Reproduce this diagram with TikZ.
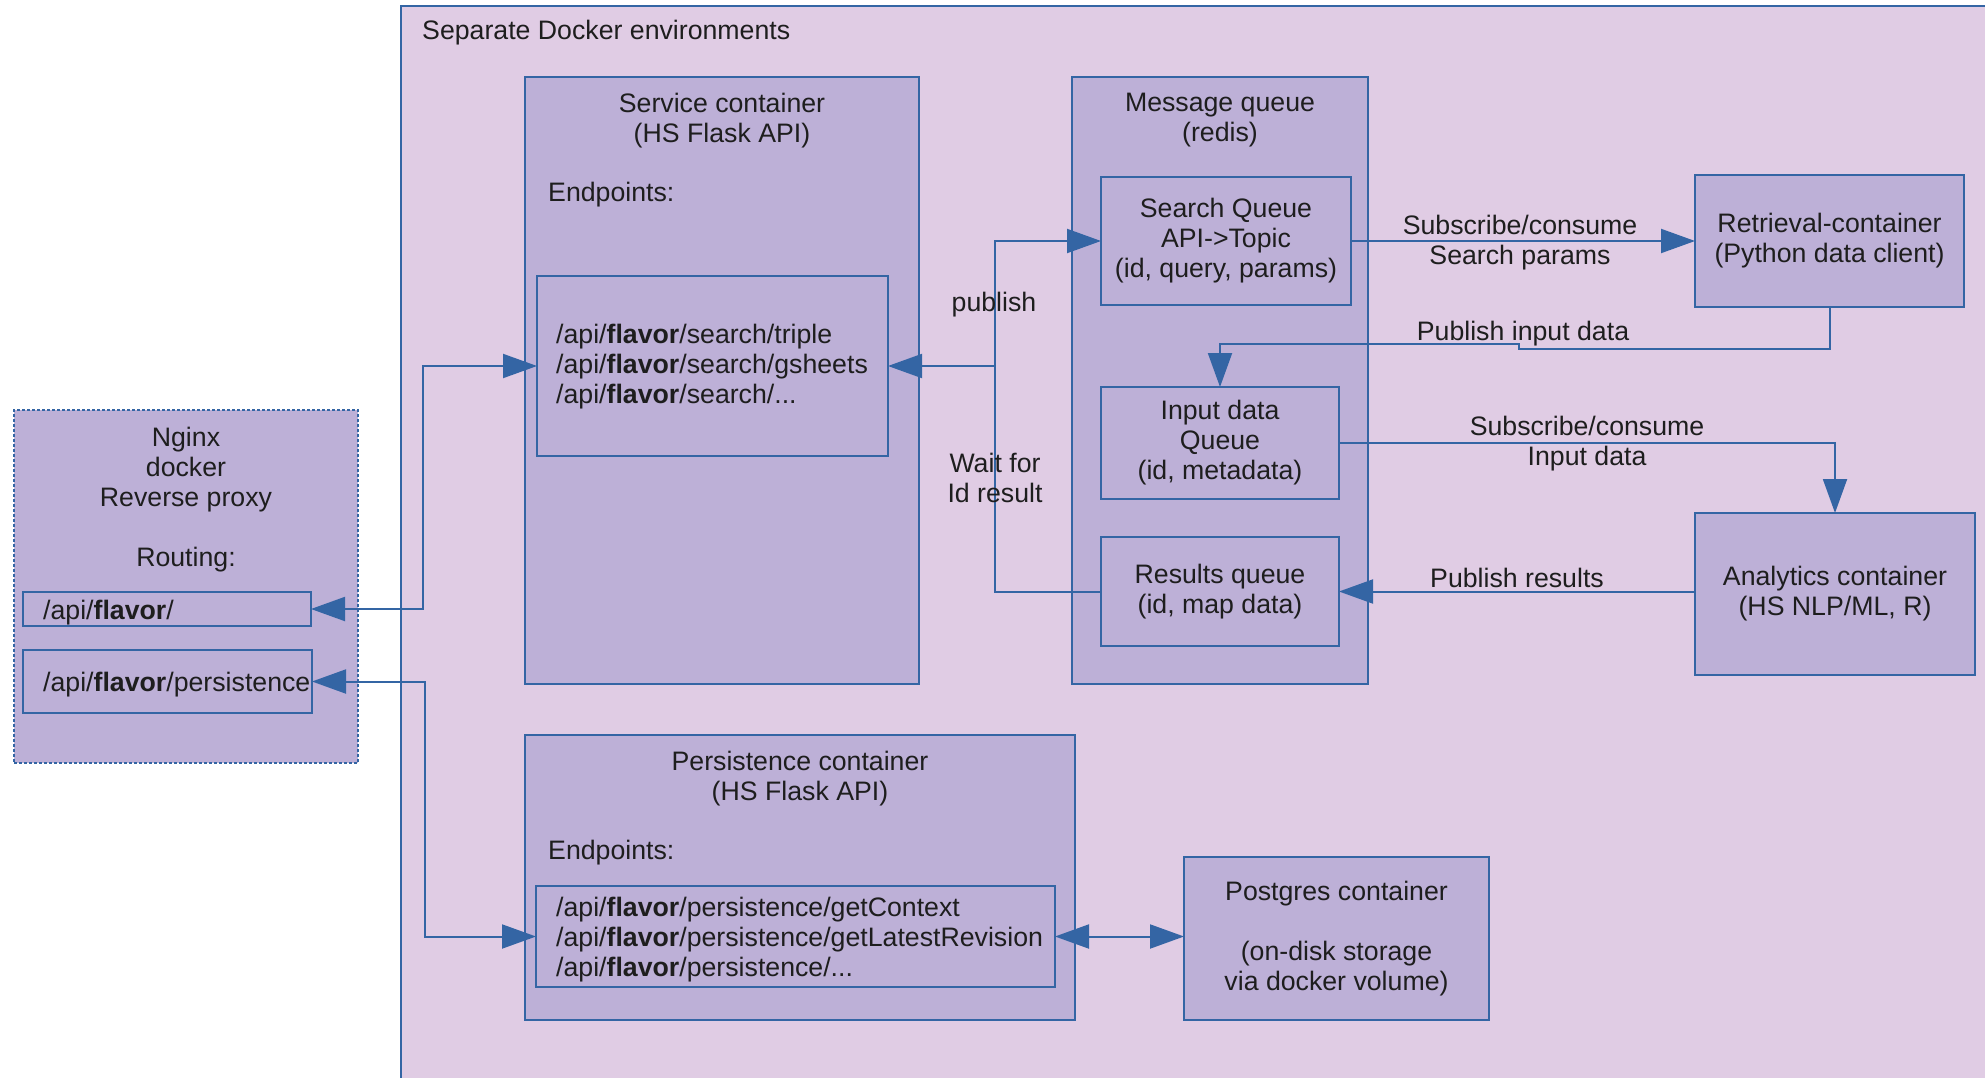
\documentclass[tikz,border=0pt]{standalone}
\usepackage{fontspec}
\setmainfont{Liberation Sans}
\usetikzlibrary{arrows.meta}
\definecolor{bl}{HTML}{3465A4}
\definecolor{envf}{HTML}{E0CCE4}
\definecolor{boxf}{HTML}{BDB0D7}
\definecolor{txt}{HTML}{1E1E1E}
\tikzset{
  every node/.style={font=\fontsize{26.7}{30}\selectfont, text=txt},
  ctr/.style={draw=bl, fill=boxf, line width=2pt, inner sep=0pt, outer sep=0pt, anchor=north west, align=center},
  lbl/.style={inner sep=0pt, align=center, yshift=-2.5pt},
  conn/.style={draw=bl, line width=2pt},
  arr/.style={conn, -{Triangle[length=34pt,width=24pt]}},
  dbl/.style={conn, {Triangle[length=34pt,width=24pt]}-{Triangle[length=34pt,width=24pt]}},
}
\newcommand{\fl}{/api/\textbf{flavor}/}
\begin{document}
\begin{tikzpicture}[x=1pt,y=-1pt]
\useasboundingbox (0,0) rectangle (1985,1078);
\clip (0,0) rectangle (1985,1078);
\fill[white] (0,0) rectangle (1985,1078);
% environment
\draw[draw=bl, fill=envf, line width=2pt] (401,6) rectangle (2100,1200);
\node[lbl, anchor=west] (envt) at (422,30) {Separate Docker environments};
% nginx
\node[ctr, dash pattern=on 3pt off 2pt, minimum width=344pt, minimum height=353pt] (nginx) at (14,410) {};
\node[lbl] (nginxt) at (186,497) {Nginx\\docker\\Reverse proxy\\[30pt]Routing:};
\node[ctr, minimum width=288pt, minimum height=34pt] (r1) at (23,592) {};
\node[lbl, anchor=west] (r1t) at (43,610) {\fl};
\node[ctr, minimum width=289pt, minimum height=63pt] (r2) at (23,650) {};
\node[lbl, anchor=west] (r2t) at (43,682) {\fl persistence};
% service container
\node[ctr, minimum width=394pt, minimum height=607pt] (svc) at (525,77) {};
\node[lbl] (svct) at (722,118) {Service container\\(HS Flask API)};
\node[lbl, anchor=west] (svce) at (548,192) {Endpoints:};
\node[ctr, minimum width=351pt, minimum height=180pt] (svcin) at (537,276) {};
\node[lbl, anchor=west, align=left] (svcint) at (556,364) {\fl search/triple\\\fl search/gsheets\\\fl search/...};
% message queue
\node[ctr, minimum width=296pt, minimum height=607pt] (mq) at (1072,77) {};
\node[lbl] (mqt) at (1220,118) {Message queue\\(redis)};
\node[ctr, minimum width=250pt, minimum height=128pt] (sq) at (1101,177) {Search Queue\\API->Topic\\(id, query, params)};
\node[ctr, minimum width=238pt, minimum height=112pt] (iq) at (1101,387) {Input data\\Queue\\(id, metadata)};
\node[ctr, minimum width=238pt, minimum height=109pt] (rq) at (1101,537) {Results queue\\(id, map data)};
% right containers
\node[ctr, minimum width=269pt, minimum height=132pt] (ret) at (1695,175) {Retrieval-container\\(Python data client)};
\node[ctr, minimum width=280pt, minimum height=162pt] (ana) at (1695,513) {Analytics container\\(HS NLP/ML, R)};
% persistence
\node[ctr, minimum width=550pt, minimum height=285pt] (pers) at (525,735) {};
\node[lbl] (perst) at (800,776) {Persistence container\\(HS Flask API)};
\node[lbl, anchor=west] (perse) at (548,850) {Endpoints:};
\node[ctr, minimum width=519pt, minimum height=101pt] (persin) at (536,886) {};
\node[lbl, anchor=west, align=left] (persint) at (556,937) {\fl persistence/getContext\\\fl persistence/getLatestRevision\\\fl persistence/...};
\node[ctr, minimum width=305pt, minimum height=163pt] (pg) at (1184,857) {Postgres container\\[30pt](on-disk storage\\via docker volume)};
% junctions
\coordinate (j1) at (423,0);
\coordinate (j2) at (425,0);
\coordinate (jv) at (995,0);
\coordinate (p1) at (1519,349);
\coordinate (p2) at (1519,344);
% connectors
\draw[dbl] (r1.east) -- (r1.east -| j1) |- (svcin.west);
\draw[dbl] (r2.east) -- (r2.east -| j2) |- (persin.west);
\draw[arr] (rq.west) -- (rq.west -| jv) |- (sq.west);
\draw[arr] (svcin.east -| jv) -- (svcin.east);
\draw[arr] (sq.east) -- (ret.west);
\draw[arr] (ret.south) |- (p1) -- (p2) -| (iq.north);
\draw[arr] (iq.east) -| (ana.north);
\draw[arr] (ana.west |- rq.east) -- (rq.east);
\draw[dbl] (persin.east) -- (persin.east -| pg.west);
% labels
\node[lbl] (lpub) at (994,302) {publish};
\node[lbl] (lwait) at (995,475) {Wait for\\Id result};
\node[lbl] (lsub1) at (1520,240) {Subscribe/consume\\Search params};
\node[lbl] (lpin) at (1523,331) {Publish input data};
\node[lbl] (lsub2) at (1587,441) {Subscribe/consume\\Input data};
\node[lbl] (lpres) at (1517,575) {Publish results};
\end{tikzpicture}
\end{document}
